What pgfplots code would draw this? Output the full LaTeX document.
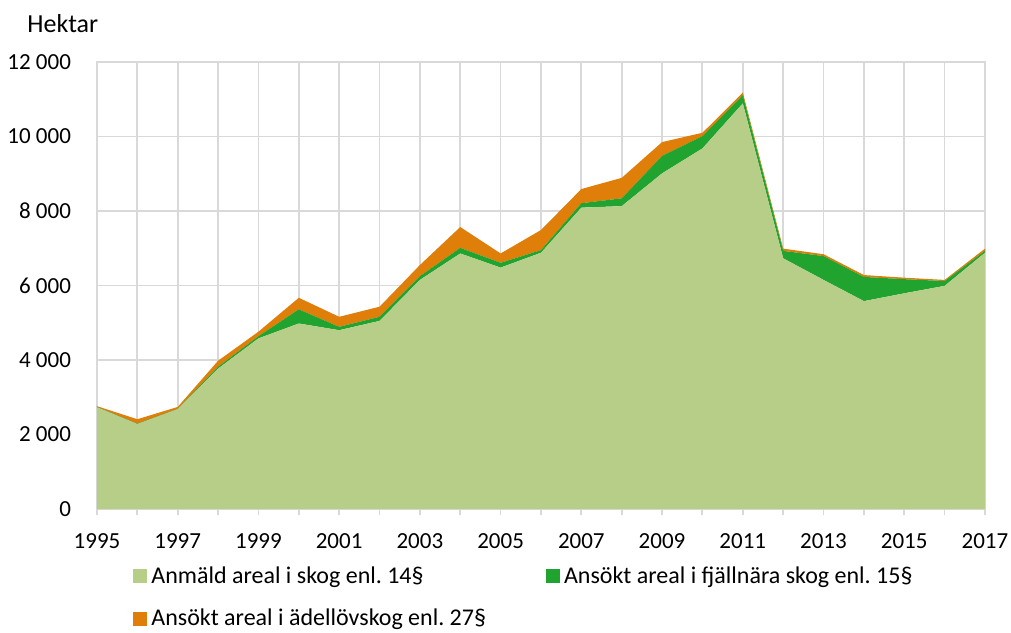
\documentclass[border=0pt]{standalone}
\usepackage{fontspec}
\setmainfont{Carlito}
\usepackage{pgfplots}
\usepackage{pgfplotstable}
\pgfplotsset{compat=1.18}
\definecolor{cLight}{HTML}{B7CE89}
\definecolor{cGreen}{HTML}{21A32F}
\definecolor{cOrange}{HTML}{DF7E09}
\definecolor{cGrid}{HTML}{D9D9D9}
\pgfplotstableread{
year light green orange
1995 2730 10 20
1996 2280 10 120
1997 2680 10 50
1998 3770 50 160
1999 4580 60 120
2000 4980 380 310
2001 4800 90 270
2002 5050 110 270
2003 6150 100 300
2004 6860 150 560
2005 6480 130 250
2006 6880 70 540
2007 8090 120 380
2008 8130 210 550
2009 9010 470 370
2010 9680 330 90
2011 10890 220 70
2012 6730 200 60
2013 6150 640 50
2014 5580 650 50
2015 5790 380 40
2016 5990 130 30
2017 6880 50 60
}\datatable
\begin{document}
\fontsize{11.5}{14}\selectfont
\frenchspacing
\begin{tikzpicture}
\begin{axis}[name=ax, scale only axis, width=444pt, height=223.5pt,
  xmin=1995, xmax=2017, ymin=0, ymax=12000,
  xtick={1995,...,2017},
  xticklabels={1995,,1997,,1999,,2001,,2003,,2005,,2007,,2009,,2011,,2013,,2015,,2017},
  ytick={0,2000,...,12000},
  scaled y ticks=false,
  grid=major, grid style={draw=cGrid, line width=0.9pt},
  axis line style={draw=cGrid, line width=0.9pt},
  xtick pos=bottom, ytick pos=left,
  tick align=outside, major tick length=3pt,
  xtick style={draw=cGrid, line width=0.9pt},
  ytick style={draw=none},
  /pgf/number format/1000 sep={\ },
  /pgf/number format/assume math mode=true,
  yticklabel style={xshift=-6pt},
  xticklabel style={yshift=-5.5pt},
  stack plots=y,
  legend columns=2,
  legend style={draw=none, fill=none, at={(0,0)}, anchor=north west,
    xshift=15pt, yshift=-24.5pt, row sep=7pt,
    font=\fontsize{12}{14}\selectfont,
    /tikz/column 2/.style={column sep=28pt},
    cells={anchor=west}},
  legend image code/.code={\fill[#1] (0pt,-3.5pt) rectangle (7pt,3.5pt);},
]
\addplot[fill=cLight, draw=none] table[x=year, y=light] {\datatable} \closedcycle;
\addlegendentry{Anmäld areal i skog enl. 14§}
\addplot[fill=cGreen, draw=none] table[x=year, y=green] {\datatable} \closedcycle;
\addlegendentry{Ansökt areal i fjällnära skog enl. 15§}
\addplot[fill=cOrange, draw=none] table[x=year, y=orange] {\datatable} \closedcycle;
\addlegendentry{Ansökt areal i ädellövskog enl. 27§}
\end{axis}
\node[anchor=base west, inner sep=0pt, font=\fontsize{13}{15}\selectfont] at ([xshift=-35pt, yshift=14.5pt]ax.north west) {Hektar};
\pgfresetboundingbox
\path ([xshift=-48.5pt, yshift=-61.5pt]ax.south west) rectangle ([xshift=13pt, yshift=31pt]ax.north east);
\end{tikzpicture}
\end{document}
